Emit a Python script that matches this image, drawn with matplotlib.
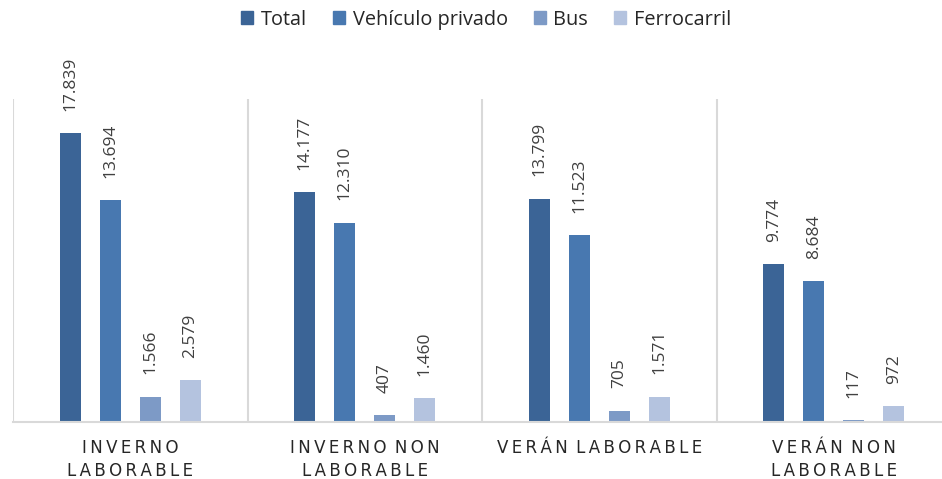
import matplotlib.pyplot as plt
import numpy as np
from matplotlib.patches import Patch

# datos
categorias = ['INVERNO\nLABORABLE', 'INVERNO NON\nLABORABLE', 'VERÁN LABORABLE', 'VERÁN NON\nLABORABLE']
series = ['Total', 'Vehículo privado', 'Bus', 'Ferrocarril']
total = [17839, 14177, 13799, 9774]
vehiculo = [13694, 12310, 11523, 8684]
bus = [1566, 407, 705, 117]
ferrocarril = [2579, 1460, 1571, 972]
colores = ['#3B6496', '#4878B0', '#7D9AC6', '#B4C3DF']

valores = [total, vehiculo, bus, ferrocarril]

plt.rcParams['font.family'] = ['Open Sans', 'DejaVu Sans']

fig = plt.figure(figsize=(9.42, 4.79), dpi=100)
# ejes en pixeles: izq 13, der 951, abajo 422, arriba 99
ax = fig.add_axes([13 / 942, (479 - 422) / 479, 938 / 942, 323 / 479])

x = np.arange(len(categorias))
paso = 40 / 234.5
ancho = 21 / 234.5
for i, (nombre, vals) in enumerate(zip(series, valores)):
    pos = x + (i - 1.5) * paso
    ax.bar(pos, vals, width=ancho, color=colores[i], zorder=2)
    for xp, v in zip(pos, vals):
        etiqueta = f'{v:,}'.replace(',', '.')
        ax.annotate(etiqueta, (xp, v), xytext=(0, 16), textcoords='offset points',
                    rotation=90, ha='center', va='bottom', fontsize=12.5, color='#404040')

ax.set_xlim(-0.5, len(categorias) - 0.5)
ax.set_ylim(0, 19950)

# separadores verticales entre grupos
for s in np.arange(-0.5, len(categorias), 1.0):
    ax.axvline(s, color='#D9D9D9', linewidth=1.5, zorder=1)

for lado in ['top', 'right', 'left']:
    ax.spines[lado].set_visible(False)
ax.spines['bottom'].set_color('#D9D9D9')
ax.spines['bottom'].set_linewidth(1.5)

ax.set_yticks([])
ax.set_xticks(x)
espaciado = ['\u2009'.join(list(c)) for c in categorias]
espaciado = [c.replace('\u2009\n\u2009', '\n').replace('\u2009 \u2009', '\u2002') for c in espaciado]
ax.set_xticklabels(espaciado, fontsize=12, color='#262626', family=['DejaVu Sans'],
                   linespacing=1.4)
ax.tick_params(axis='x', length=0, pad=12)

handles = [Patch(color=c, label=n) for c, n in zip(colores, series)]
fig.legend(handles=handles, loc='upper center', bbox_to_anchor=(0.516, 1.017), ncol=4,
           frameon=False, fontsize=14.3, handlelength=0.6, handleheight=0.6,
           handletextpad=0.4, columnspacing=1.3, labelcolor='#262626')

fig.savefig('out.png', dpi=100)
